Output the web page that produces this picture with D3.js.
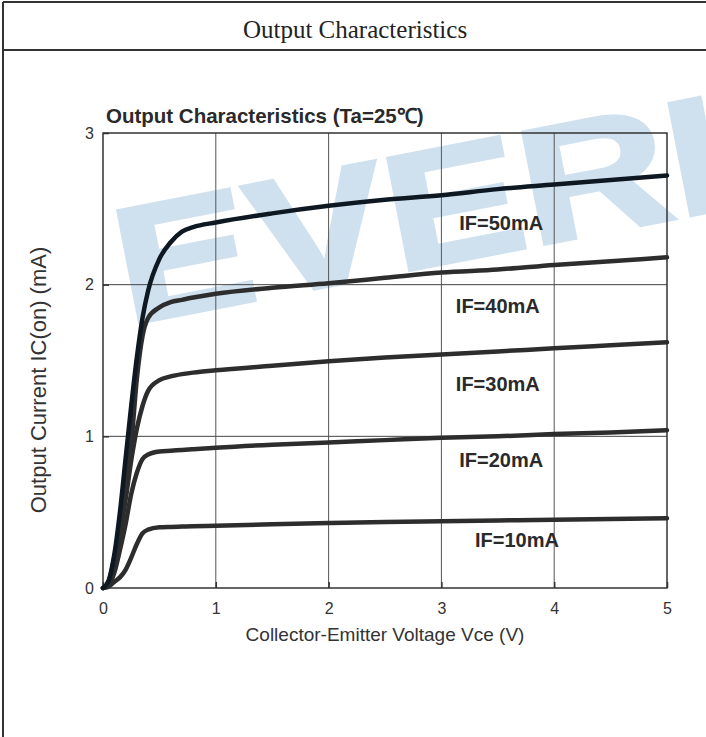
<!DOCTYPE html>
<html>
<head>
<meta charset="utf-8">
<script src="https://cdn.jsdelivr.net/npm/d3@7"></script>
<style>
  body { margin: 0; background: #fff; }
  svg { display: block; }
</style>
</head>
<body>
<div id="chart"></div>
<script>
// data
var vce = [0, 0.05, 0.1, 0.15, 0.2, 0.25, 0.3, 0.35, 0.4, 0.5, 0.6, 0.7, 0.8, 1, 1.5, 2, 2.5, 3, 3.5, 4, 4.5, 5];
var if10 = [0, 0.01, 0.04, 0.07, 0.12, 0.2, 0.29, 0.36, 0.385, 0.40, 0.403, 0.405, 0.407, 0.41, 0.42, 0.428, 0.435, 0.44, 0.445, 0.45, 0.455, 0.46];
var if20 = [0, 0.02, 0.1, 0.25, 0.42, 0.62, 0.76, 0.85, 0.88, 0.90, 0.905, 0.91, 0.915, 0.925, 0.945, 0.96, 0.975, 0.99, 1.0, 1.015, 1.025, 1.04];
var if30 = [0, 0.03, 0.17, 0.35, 0.58, 0.84, 1.05, 1.2, 1.3, 1.37, 1.395, 1.41, 1.42, 1.435, 1.465, 1.495, 1.52, 1.54, 1.56, 1.58, 1.60, 1.62];
var if40 = [0, 0.04, 0.2, 0.42, 0.7, 0.95, 1.38, 1.66, 1.78, 1.85, 1.885, 1.90, 1.915, 1.94, 1.98, 2.01, 2.045, 2.08, 2.10, 2.13, 2.155, 2.18];
var if50 = [0, 0.05, 0.22, 0.5, 0.85, 1.2, 1.52, 1.78, 1.96, 2.17, 2.28, 2.35, 2.38, 2.41, 2.47, 2.52, 2.56, 2.59, 2.63, 2.66, 2.69, 2.72];
var seriesNames = ["IF=10mA", "IF=20mA", "IF=30mA", "IF=40mA", "IF=50mA"];
var seriesValues = [if10, if20, if30, if40, if50];
// where each label sits, in data units
var labelV = [3.67, 3.53, 3.5, 3.5, 3.53];
var labelI = [0.27, 0.8, 1.30, 1.81, 2.36];
var xTicks = [0, 1, 2, 3, 4, 5];
var yTicks = [0, 1, 2, 3];

var W = 706, H = 737;
var margin = {top: 133, right: 39, bottom: 149, left: 103},
    width = W - margin.left - margin.right,
    height = H - margin.top - margin.bottom;

var svg = d3.select("#chart").append("svg")
    .attr("width", W)
    .attr("height", H);

// watermark
svg.append("text")
    .attr("transform", "translate(127,325) rotate(-11) scale(1.25,1)")
    .attr("font-family", "Liberation Sans, Arial, sans-serif")
    .attr("font-weight", "bold")
    .attr("font-size", 165)
    .attr("fill", "#cfe1ef")
    .attr("stroke", "#cfe1ef")
    .attr("stroke-width", 4)
    .text("EVERL");

// page frame
var frame = "#333";
svg.append("line").attr("x1", 3).attr("x2", W).attr("y1", 2).attr("y2", 2)
    .attr("stroke", frame).attr("stroke-width", 2);
svg.append("line").attr("x1", 3).attr("x2", 3).attr("y1", 2).attr("y2", H)
    .attr("stroke", frame).attr("stroke-width", 2);
svg.append("line").attr("x1", 3).attr("x2", W).attr("y1", 50).attr("y2", 50)
    .attr("stroke", frame).attr("stroke-width", 2);

svg.append("text")
    .attr("x", 355).attr("y", 38)
    .attr("text-anchor", "middle")
    .attr("font-family", "Liberation Serif, Times New Roman, serif")
    .attr("font-size", 25)
    .attr("fill", "#222")
    .text("Output Characteristics");

var x = d3.scaleLinear().domain([0, 5]).range([0, width]);
var y = d3.scaleLinear().domain([0, 3]).range([height, 0]);

var g = svg.append("g")
    .attr("transform", "translate(" + margin.left + "," + margin.top + ")");

// grid
g.append("g")
  .selectAll("line")
  .data([1, 2, 3, 4])
  .enter().append("line")
    .attr("x1", function(d) { return x(d); })
    .attr("x2", function(d) { return x(d); })
    .attr("y1", 0).attr("y2", height)
    .attr("stroke", "#555").attr("stroke-width", 1);

g.append("g")
  .selectAll("line")
  .data([1, 2])
  .enter().append("line")
    .attr("x1", 0).attr("x2", width)
    .attr("y1", function(d) { return y(d); })
    .attr("y2", function(d) { return y(d); })
    .attr("stroke", "#444").attr("stroke-width", 1);

// axes (ticks inside, labels outside)
var xAxis = g.append("g")
    .attr("transform", "translate(0," + height + ")")
    .call(d3.axisBottom(x).tickValues(xTicks).tickSize(-6).tickPadding(15).tickFormat(d3.format("d")));
var yAxis = g.append("g")
    .call(d3.axisLeft(y).tickValues(yTicks).tickSize(-6).tickPadding(9).tickFormat(d3.format("d")));

[xAxis, yAxis].forEach(function(a) {
  a.select(".domain").remove();
  a.selectAll("line").attr("stroke", "#333").attr("stroke-width", 1.5);
  a.selectAll("text")
    .attr("font-family", "Liberation Sans, Arial, sans-serif")
    .attr("font-size", 16)
    .attr("fill", "#333");
});

g.append("rect")
    .attr("width", width).attr("height", height)
    .attr("fill", "none")
    .attr("stroke", "#333").attr("stroke-width", 1.5);

// curves
var line = d3.line()
    .x(function(d, i) { return x(vce[i]); })
    .y(function(d) { return y(d); })
    .curve(d3.curveMonotoneX);

g.selectAll("path.curve")
  .data(seriesValues)
  .enter().append("path")
    .attr("class", "curve")
    .attr("d", line)
    .attr("fill", "none")
    .attr("stroke", function(d, i) { return i == 4 ? "#0d1822" : "#2d2d2d"; })
    .attr("stroke-width", 4.5)
    .attr("stroke-linejoin", "round")
    .attr("stroke-linecap", "round");

g.selectAll("text.lbl")
  .data(seriesNames)
  .enter().append("text")
    .attr("class", "lbl")
    .attr("x", function(d, i) { return x(labelV[i]); })
    .attr("y", function(d, i) { return y(labelI[i]); })
    .attr("text-anchor", "middle")
    .attr("font-family", "Liberation Sans, Arial, sans-serif")
    .attr("font-weight", "bold")
    .attr("font-size", 20)
    .attr("fill", "#2a2a2a")
    .text(function(d) { return d; });

// titles
svg.append("text")
    .attr("x", 106).attr("y", 123)
    .attr("font-family", "Liberation Sans, Arial, sans-serif")
    .attr("font-weight", "bold")
    .attr("font-size", 20.5)
    .attr("fill", "#2a2a2a")
    .text("Output Characteristics (Ta=25\u2103)");

svg.append("text")
    .attr("x", margin.left + width / 2).attr("y", 641)
    .attr("text-anchor", "middle")
    .attr("font-family", "Liberation Sans, Arial, sans-serif")
    .attr("font-size", 19)
    .attr("fill", "#333")
    .text("Collector-Emitter Voltage Vce (V)");

svg.append("text")
    .attr("transform", "translate(46,380) rotate(-90)")
    .attr("text-anchor", "middle")
    .attr("font-family", "Liberation Sans, Arial, sans-serif")
    .attr("font-size", 22)
    .attr("fill", "#333")
    .text("Output Current IC(on) (mA)");
</script>
</body>
</html>
